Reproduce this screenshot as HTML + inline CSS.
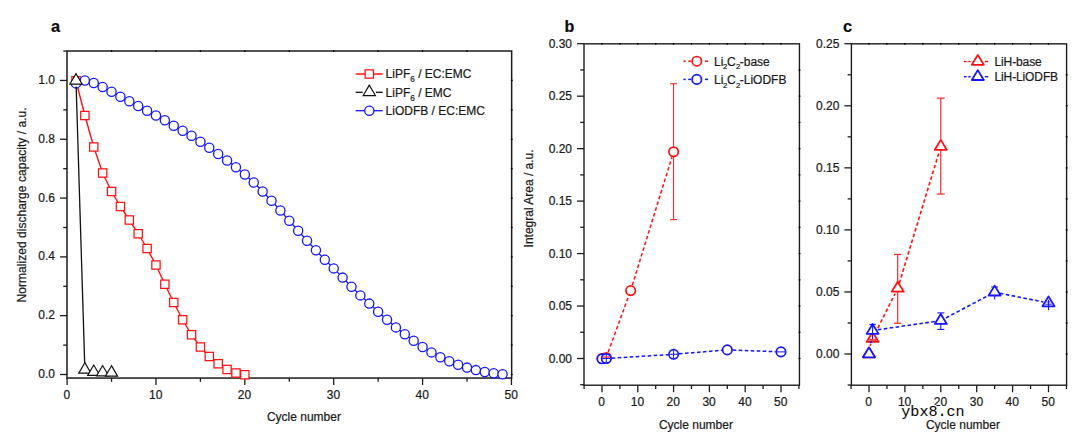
<!DOCTYPE html>
<html><head><meta charset="utf-8"><title>chart</title>
<style>
html,body{margin:0;padding:0;background:#fff;}
body{width:1080px;height:442px;overflow:hidden;font-family:"Liberation Sans", sans-serif;}
svg{display:block;font-family:"Liberation Sans", sans-serif;}
svg text{stroke:#1a1a1a;stroke-width:0.22px;}
</style></head>
<body>
<svg width="1080" height="442" viewBox="0 0 1080 442">
<rect x="0" y="0" width="1080" height="442" fill="#ffffff"/>
<rect x="67.0" y="51.0" width="444.65" height="327.05" fill="none" stroke="#1c1c1c" stroke-width="1.5"/>
<line x1="67.10" y1="378.05" x2="67.10" y2="385.05" stroke="#1c1c1c" stroke-width="1.3" />
<line x1="155.97" y1="378.05" x2="155.97" y2="385.05" stroke="#1c1c1c" stroke-width="1.3" />
<line x1="244.84" y1="378.05" x2="244.84" y2="385.05" stroke="#1c1c1c" stroke-width="1.3" />
<line x1="333.71" y1="378.05" x2="333.71" y2="385.05" stroke="#1c1c1c" stroke-width="1.3" />
<line x1="422.58" y1="378.05" x2="422.58" y2="385.05" stroke="#1c1c1c" stroke-width="1.3" />
<line x1="511.45" y1="378.05" x2="511.45" y2="385.05" stroke="#1c1c1c" stroke-width="1.3" />
<line x1="111.53" y1="378.05" x2="111.53" y2="381.85" stroke="#1c1c1c" stroke-width="1.3" />
<line x1="200.41" y1="378.05" x2="200.41" y2="381.85" stroke="#1c1c1c" stroke-width="1.3" />
<line x1="289.27" y1="378.05" x2="289.27" y2="381.85" stroke="#1c1c1c" stroke-width="1.3" />
<line x1="378.14" y1="378.05" x2="378.14" y2="381.85" stroke="#1c1c1c" stroke-width="1.3" />
<line x1="467.01" y1="378.05" x2="467.01" y2="381.85" stroke="#1c1c1c" stroke-width="1.3" />
<line x1="60.00" y1="374.50" x2="67.00" y2="374.50" stroke="#1c1c1c" stroke-width="1.3" />
<line x1="60.00" y1="315.69" x2="67.00" y2="315.69" stroke="#1c1c1c" stroke-width="1.3" />
<line x1="60.00" y1="256.88" x2="67.00" y2="256.88" stroke="#1c1c1c" stroke-width="1.3" />
<line x1="60.00" y1="198.07" x2="67.00" y2="198.07" stroke="#1c1c1c" stroke-width="1.3" />
<line x1="60.00" y1="139.26" x2="67.00" y2="139.26" stroke="#1c1c1c" stroke-width="1.3" />
<line x1="60.00" y1="80.45" x2="67.00" y2="80.45" stroke="#1c1c1c" stroke-width="1.3" />
<line x1="63.20" y1="345.10" x2="67.00" y2="345.10" stroke="#1c1c1c" stroke-width="1.3" />
<line x1="63.20" y1="286.28" x2="67.00" y2="286.28" stroke="#1c1c1c" stroke-width="1.3" />
<line x1="63.20" y1="227.47" x2="67.00" y2="227.47" stroke="#1c1c1c" stroke-width="1.3" />
<line x1="63.20" y1="168.66" x2="67.00" y2="168.66" stroke="#1c1c1c" stroke-width="1.3" />
<line x1="63.20" y1="109.85" x2="67.00" y2="109.85" stroke="#1c1c1c" stroke-width="1.3" />
<line x1="63.20" y1="51.04" x2="67.00" y2="51.04" stroke="#1c1c1c" stroke-width="1.3" />
<line x1="111.53" y1="50.20" x2="111.53" y2="51.90" stroke="#000" stroke-width="1.3" />
<line x1="155.97" y1="50.20" x2="155.97" y2="51.90" stroke="#000" stroke-width="1.3" />
<line x1="200.41" y1="50.20" x2="200.41" y2="51.90" stroke="#000" stroke-width="1.3" />
<line x1="244.84" y1="50.20" x2="244.84" y2="51.90" stroke="#000" stroke-width="1.3" />
<line x1="289.27" y1="50.20" x2="289.27" y2="51.90" stroke="#000" stroke-width="1.3" />
<line x1="333.71" y1="50.20" x2="333.71" y2="51.90" stroke="#000" stroke-width="1.3" />
<line x1="378.14" y1="50.20" x2="378.14" y2="51.90" stroke="#000" stroke-width="1.3" />
<line x1="422.58" y1="50.20" x2="422.58" y2="51.90" stroke="#000" stroke-width="1.3" />
<line x1="467.01" y1="50.20" x2="467.01" y2="51.90" stroke="#000" stroke-width="1.3" />
<line x1="510.85" y1="374.50" x2="512.65" y2="374.50" stroke="#000" stroke-width="1.3" />
<line x1="510.85" y1="345.10" x2="512.65" y2="345.10" stroke="#000" stroke-width="1.3" />
<line x1="510.85" y1="315.69" x2="512.65" y2="315.69" stroke="#000" stroke-width="1.3" />
<line x1="510.85" y1="286.28" x2="512.65" y2="286.28" stroke="#000" stroke-width="1.3" />
<line x1="510.85" y1="256.88" x2="512.65" y2="256.88" stroke="#000" stroke-width="1.3" />
<line x1="510.85" y1="227.47" x2="512.65" y2="227.47" stroke="#000" stroke-width="1.3" />
<line x1="510.85" y1="198.07" x2="512.65" y2="198.07" stroke="#000" stroke-width="1.3" />
<line x1="510.85" y1="168.66" x2="512.65" y2="168.66" stroke="#000" stroke-width="1.3" />
<line x1="510.85" y1="139.26" x2="512.65" y2="139.26" stroke="#000" stroke-width="1.3" />
<line x1="510.85" y1="109.85" x2="512.65" y2="109.85" stroke="#000" stroke-width="1.3" />
<line x1="510.85" y1="80.45" x2="512.65" y2="80.45" stroke="#000" stroke-width="1.3" />
<text x="66.80" y="398.75" font-size="12" text-anchor="middle" font-weight="normal" fill="#1a1a1a" >0</text>
<text x="155.67" y="398.75" font-size="12" text-anchor="middle" font-weight="normal" fill="#1a1a1a" >10</text>
<text x="244.54" y="398.75" font-size="12" text-anchor="middle" font-weight="normal" fill="#1a1a1a" >20</text>
<text x="333.41" y="398.75" font-size="12" text-anchor="middle" font-weight="normal" fill="#1a1a1a" >30</text>
<text x="422.28" y="398.75" font-size="12" text-anchor="middle" font-weight="normal" fill="#1a1a1a" >40</text>
<text x="511.15" y="398.75" font-size="12" text-anchor="middle" font-weight="normal" fill="#1a1a1a" >50</text>
<text x="55.00" y="378.10" font-size="12" text-anchor="end" font-weight="normal" fill="#1a1a1a" >0.0</text>
<text x="55.00" y="319.29" font-size="12" text-anchor="end" font-weight="normal" fill="#1a1a1a" >0.2</text>
<text x="55.00" y="260.48" font-size="12" text-anchor="end" font-weight="normal" fill="#1a1a1a" >0.4</text>
<text x="55.00" y="201.67" font-size="12" text-anchor="end" font-weight="normal" fill="#1a1a1a" >0.6</text>
<text x="55.00" y="142.86" font-size="12" text-anchor="end" font-weight="normal" fill="#1a1a1a" >0.8</text>
<text x="55.00" y="84.05" font-size="12" text-anchor="end" font-weight="normal" fill="#1a1a1a" >1.0</text>
<polyline points="75.99,80.80 84.87,115.50 93.76,147.00 102.65,173.00 111.53,191.50 120.42,206.50 129.31,220.00 138.20,233.75 147.08,248.50 155.97,265.00 164.86,284.25 173.74,302.50 182.63,319.75 191.52,334.75 200.41,347.00 209.29,356.50 218.18,363.75 227.07,369.50 235.95,373.00 244.84,374.75" fill="none" stroke="#ff1010" stroke-width="1.4" />
<rect x="71.84" y="76.65" width="8.3" height="8.3" fill="#fff" stroke="#ff1010" stroke-width="1.25"/>
<rect x="80.72" y="111.35" width="8.3" height="8.3" fill="#fff" stroke="#ff1010" stroke-width="1.25"/>
<rect x="89.61" y="142.85" width="8.3" height="8.3" fill="#fff" stroke="#ff1010" stroke-width="1.25"/>
<rect x="98.50" y="168.85" width="8.3" height="8.3" fill="#fff" stroke="#ff1010" stroke-width="1.25"/>
<rect x="107.38" y="187.35" width="8.3" height="8.3" fill="#fff" stroke="#ff1010" stroke-width="1.25"/>
<rect x="116.27" y="202.35" width="8.3" height="8.3" fill="#fff" stroke="#ff1010" stroke-width="1.25"/>
<rect x="125.16" y="215.85" width="8.3" height="8.3" fill="#fff" stroke="#ff1010" stroke-width="1.25"/>
<rect x="134.05" y="229.60" width="8.3" height="8.3" fill="#fff" stroke="#ff1010" stroke-width="1.25"/>
<rect x="142.93" y="244.35" width="8.3" height="8.3" fill="#fff" stroke="#ff1010" stroke-width="1.25"/>
<rect x="151.82" y="260.85" width="8.3" height="8.3" fill="#fff" stroke="#ff1010" stroke-width="1.25"/>
<rect x="160.71" y="280.10" width="8.3" height="8.3" fill="#fff" stroke="#ff1010" stroke-width="1.25"/>
<rect x="169.59" y="298.35" width="8.3" height="8.3" fill="#fff" stroke="#ff1010" stroke-width="1.25"/>
<rect x="178.48" y="315.60" width="8.3" height="8.3" fill="#fff" stroke="#ff1010" stroke-width="1.25"/>
<rect x="187.37" y="330.60" width="8.3" height="8.3" fill="#fff" stroke="#ff1010" stroke-width="1.25"/>
<rect x="196.25" y="342.85" width="8.3" height="8.3" fill="#fff" stroke="#ff1010" stroke-width="1.25"/>
<rect x="205.14" y="352.35" width="8.3" height="8.3" fill="#fff" stroke="#ff1010" stroke-width="1.25"/>
<rect x="214.03" y="359.60" width="8.3" height="8.3" fill="#fff" stroke="#ff1010" stroke-width="1.25"/>
<rect x="222.92" y="365.35" width="8.3" height="8.3" fill="#fff" stroke="#ff1010" stroke-width="1.25"/>
<rect x="231.80" y="368.85" width="8.3" height="8.3" fill="#fff" stroke="#ff1010" stroke-width="1.25"/>
<rect x="240.69" y="370.60" width="8.3" height="8.3" fill="#fff" stroke="#ff1010" stroke-width="1.25"/>
<polyline points="75.99,83.40 84.87,80.50 93.76,83.00 102.65,87.00 111.53,91.75 120.42,96.75 129.31,101.25 138.20,106.00 147.08,110.75 155.97,115.50 164.86,120.25 173.74,125.75 182.63,130.75 191.52,135.75 200.41,141.75 209.29,147.75 218.18,154.00 227.07,160.50 235.95,167.20 244.84,174.50 253.73,182.50 262.61,191.50 271.50,200.75 280.39,210.50 289.27,220.75 298.16,230.75 307.05,240.75 315.94,250.30 324.82,259.80 333.71,268.40 342.60,277.60 351.48,286.80 360.37,295.40 369.26,303.60 378.14,311.80 387.03,319.80 395.92,327.40 404.81,334.30 413.69,340.70 422.58,347.00 431.47,352.40 440.35,357.20 449.24,361.30 458.13,364.80 467.01,367.60 475.90,370.10 484.79,372.00 493.68,373.30 502.56,374.30" fill="none" stroke="#1414ff" stroke-width="1.3" />
<circle cx="75.99" cy="83.40" r="4.6" fill="#fff" stroke="#1414ff" stroke-width="1.3"/>
<circle cx="84.87" cy="80.50" r="4.6" fill="#fff" stroke="#1414ff" stroke-width="1.3"/>
<circle cx="93.76" cy="83.00" r="4.6" fill="#fff" stroke="#1414ff" stroke-width="1.3"/>
<circle cx="102.65" cy="87.00" r="4.6" fill="#fff" stroke="#1414ff" stroke-width="1.3"/>
<circle cx="111.53" cy="91.75" r="4.6" fill="#fff" stroke="#1414ff" stroke-width="1.3"/>
<circle cx="120.42" cy="96.75" r="4.6" fill="#fff" stroke="#1414ff" stroke-width="1.3"/>
<circle cx="129.31" cy="101.25" r="4.6" fill="#fff" stroke="#1414ff" stroke-width="1.3"/>
<circle cx="138.20" cy="106.00" r="4.6" fill="#fff" stroke="#1414ff" stroke-width="1.3"/>
<circle cx="147.08" cy="110.75" r="4.6" fill="#fff" stroke="#1414ff" stroke-width="1.3"/>
<circle cx="155.97" cy="115.50" r="4.6" fill="#fff" stroke="#1414ff" stroke-width="1.3"/>
<circle cx="164.86" cy="120.25" r="4.6" fill="#fff" stroke="#1414ff" stroke-width="1.3"/>
<circle cx="173.74" cy="125.75" r="4.6" fill="#fff" stroke="#1414ff" stroke-width="1.3"/>
<circle cx="182.63" cy="130.75" r="4.6" fill="#fff" stroke="#1414ff" stroke-width="1.3"/>
<circle cx="191.52" cy="135.75" r="4.6" fill="#fff" stroke="#1414ff" stroke-width="1.3"/>
<circle cx="200.41" cy="141.75" r="4.6" fill="#fff" stroke="#1414ff" stroke-width="1.3"/>
<circle cx="209.29" cy="147.75" r="4.6" fill="#fff" stroke="#1414ff" stroke-width="1.3"/>
<circle cx="218.18" cy="154.00" r="4.6" fill="#fff" stroke="#1414ff" stroke-width="1.3"/>
<circle cx="227.07" cy="160.50" r="4.6" fill="#fff" stroke="#1414ff" stroke-width="1.3"/>
<circle cx="235.95" cy="167.20" r="4.6" fill="#fff" stroke="#1414ff" stroke-width="1.3"/>
<circle cx="244.84" cy="174.50" r="4.6" fill="#fff" stroke="#1414ff" stroke-width="1.3"/>
<circle cx="253.73" cy="182.50" r="4.6" fill="#fff" stroke="#1414ff" stroke-width="1.3"/>
<circle cx="262.61" cy="191.50" r="4.6" fill="#fff" stroke="#1414ff" stroke-width="1.3"/>
<circle cx="271.50" cy="200.75" r="4.6" fill="#fff" stroke="#1414ff" stroke-width="1.3"/>
<circle cx="280.39" cy="210.50" r="4.6" fill="#fff" stroke="#1414ff" stroke-width="1.3"/>
<circle cx="289.27" cy="220.75" r="4.6" fill="#fff" stroke="#1414ff" stroke-width="1.3"/>
<circle cx="298.16" cy="230.75" r="4.6" fill="#fff" stroke="#1414ff" stroke-width="1.3"/>
<circle cx="307.05" cy="240.75" r="4.6" fill="#fff" stroke="#1414ff" stroke-width="1.3"/>
<circle cx="315.94" cy="250.30" r="4.6" fill="#fff" stroke="#1414ff" stroke-width="1.3"/>
<circle cx="324.82" cy="259.80" r="4.6" fill="#fff" stroke="#1414ff" stroke-width="1.3"/>
<circle cx="333.71" cy="268.40" r="4.6" fill="#fff" stroke="#1414ff" stroke-width="1.3"/>
<circle cx="342.60" cy="277.60" r="4.6" fill="#fff" stroke="#1414ff" stroke-width="1.3"/>
<circle cx="351.48" cy="286.80" r="4.6" fill="#fff" stroke="#1414ff" stroke-width="1.3"/>
<circle cx="360.37" cy="295.40" r="4.6" fill="#fff" stroke="#1414ff" stroke-width="1.3"/>
<circle cx="369.26" cy="303.60" r="4.6" fill="#fff" stroke="#1414ff" stroke-width="1.3"/>
<circle cx="378.14" cy="311.80" r="4.6" fill="#fff" stroke="#1414ff" stroke-width="1.3"/>
<circle cx="387.03" cy="319.80" r="4.6" fill="#fff" stroke="#1414ff" stroke-width="1.3"/>
<circle cx="395.92" cy="327.40" r="4.6" fill="#fff" stroke="#1414ff" stroke-width="1.3"/>
<circle cx="404.81" cy="334.30" r="4.6" fill="#fff" stroke="#1414ff" stroke-width="1.3"/>
<circle cx="413.69" cy="340.70" r="4.6" fill="#fff" stroke="#1414ff" stroke-width="1.3"/>
<circle cx="422.58" cy="347.00" r="4.6" fill="#fff" stroke="#1414ff" stroke-width="1.3"/>
<circle cx="431.47" cy="352.40" r="4.6" fill="#fff" stroke="#1414ff" stroke-width="1.3"/>
<circle cx="440.35" cy="357.20" r="4.6" fill="#fff" stroke="#1414ff" stroke-width="1.3"/>
<circle cx="449.24" cy="361.30" r="4.6" fill="#fff" stroke="#1414ff" stroke-width="1.3"/>
<circle cx="458.13" cy="364.80" r="4.6" fill="#fff" stroke="#1414ff" stroke-width="1.3"/>
<circle cx="467.01" cy="367.60" r="4.6" fill="#fff" stroke="#1414ff" stroke-width="1.3"/>
<circle cx="475.90" cy="370.10" r="4.6" fill="#fff" stroke="#1414ff" stroke-width="1.3"/>
<circle cx="484.79" cy="372.00" r="4.6" fill="#fff" stroke="#1414ff" stroke-width="1.3"/>
<circle cx="493.68" cy="373.30" r="4.6" fill="#fff" stroke="#1414ff" stroke-width="1.3"/>
<circle cx="502.56" cy="374.30" r="4.6" fill="#fff" stroke="#1414ff" stroke-width="1.3"/>
<line x1="76.17" y1="86.40" x2="84.70" y2="363.90" stroke="#111111" stroke-width="1.3" />
<polygon points="75.99,73.67 69.89,84.07 82.09,84.07" fill="#fff" stroke="#111111" stroke-width="1.2" stroke-linejoin="miter"/>
<polygon points="84.87,362.77 78.77,373.17 90.97,373.17" fill="#fff" stroke="#111111" stroke-width="1.2" stroke-linejoin="miter"/>
<polygon points="93.76,365.07 87.66,375.47 99.86,375.47" fill="#fff" stroke="#111111" stroke-width="1.2" stroke-linejoin="miter"/>
<polygon points="102.65,365.57 96.55,375.97 108.75,375.97" fill="#fff" stroke="#111111" stroke-width="1.2" stroke-linejoin="miter"/>
<polygon points="111.53,365.77 105.44,376.17 117.63,376.17" fill="#fff" stroke="#111111" stroke-width="1.2" stroke-linejoin="miter"/>
<line x1="355.60" y1="74.00" x2="382.70" y2="74.00" stroke="#ff1010" stroke-width="1.5" />
<rect x="365.15" y="69.85" width="8.3" height="8.3" fill="#fff" stroke="#ff1010" stroke-width="1.25"/>
<line x1="355.60" y1="92.30" x2="362.70" y2="92.30" stroke="#111111" stroke-width="1.3" />
<line x1="375.90" y1="92.30" x2="382.70" y2="92.30" stroke="#111111" stroke-width="1.3" />
<polygon points="369.30,85.17 363.20,95.57 375.40,95.57" fill="#fff" stroke="#111111" stroke-width="1.2" stroke-linejoin="miter"/>
<line x1="355.60" y1="110.70" x2="382.70" y2="110.70" stroke="#1414ff" stroke-width="1.3" />
<circle cx="369.30" cy="110.70" r="4.6" fill="#fff" stroke="#1414ff" stroke-width="1.3"/>
<text x="385.60" y="78.30" font-size="12" text-anchor="start" font-weight="normal" fill="#1a1a1a" >LiPF<tspan font-size="8.2" dy="4.0">6</tspan><tspan dy="-4.0"> </tspan>/ EC:EMC</text>
<text x="385.60" y="96.60" font-size="12" text-anchor="start" font-weight="normal" fill="#1a1a1a" >LiPF<tspan font-size="8.2" dy="4.0">6</tspan><tspan dy="-4.0"> </tspan>/ EMC</text>
<text x="385.60" y="115.00" font-size="12" text-anchor="start" font-weight="normal" fill="#1a1a1a" >LiODFB / EC:EMC</text>
<text x="303.90" y="420.50" font-size="12" text-anchor="middle" font-weight="normal" fill="#1a1a1a" >Cycle number</text>
<text transform="translate(25.6,204.9) rotate(-90)" font-size="12" letter-spacing="0.05" text-anchor="middle" fill="#1a1a1a">Normalized discharge capacity / a.u.</text>
<text x="50.90" y="31.80" font-size="16.4" text-anchor="start" font-weight="bold" fill="#0a0a0a" >a</text>
<rect x="584.0" y="43.85" width="215.45000000000005" height="341.34999999999997" fill="none" stroke="#1c1c1c" stroke-width="1.4"/>
<line x1="602.00" y1="385.20" x2="602.00" y2="392.20" stroke="#1c1c1c" stroke-width="1.3" />
<line x1="637.80" y1="385.20" x2="637.80" y2="392.20" stroke="#1c1c1c" stroke-width="1.3" />
<line x1="673.60" y1="385.20" x2="673.60" y2="392.20" stroke="#1c1c1c" stroke-width="1.3" />
<line x1="709.40" y1="385.20" x2="709.40" y2="392.20" stroke="#1c1c1c" stroke-width="1.3" />
<line x1="745.20" y1="385.20" x2="745.20" y2="392.20" stroke="#1c1c1c" stroke-width="1.3" />
<line x1="781.00" y1="385.20" x2="781.00" y2="392.20" stroke="#1c1c1c" stroke-width="1.3" />
<line x1="584.10" y1="385.20" x2="584.10" y2="389.00" stroke="#1c1c1c" stroke-width="1.3" />
<line x1="619.90" y1="385.20" x2="619.90" y2="389.00" stroke="#1c1c1c" stroke-width="1.3" />
<line x1="655.70" y1="385.20" x2="655.70" y2="389.00" stroke="#1c1c1c" stroke-width="1.3" />
<line x1="691.50" y1="385.20" x2="691.50" y2="389.00" stroke="#1c1c1c" stroke-width="1.3" />
<line x1="727.30" y1="385.20" x2="727.30" y2="389.00" stroke="#1c1c1c" stroke-width="1.3" />
<line x1="763.10" y1="385.20" x2="763.10" y2="389.00" stroke="#1c1c1c" stroke-width="1.3" />
<line x1="798.90" y1="385.20" x2="798.90" y2="389.00" stroke="#1c1c1c" stroke-width="1.3" />
<line x1="577.00" y1="358.50" x2="584.00" y2="358.50" stroke="#1c1c1c" stroke-width="1.3" />
<line x1="577.00" y1="306.03" x2="584.00" y2="306.03" stroke="#1c1c1c" stroke-width="1.3" />
<line x1="577.00" y1="253.57" x2="584.00" y2="253.57" stroke="#1c1c1c" stroke-width="1.3" />
<line x1="577.00" y1="201.10" x2="584.00" y2="201.10" stroke="#1c1c1c" stroke-width="1.3" />
<line x1="577.00" y1="148.64" x2="584.00" y2="148.64" stroke="#1c1c1c" stroke-width="1.3" />
<line x1="577.00" y1="96.18" x2="584.00" y2="96.18" stroke="#1c1c1c" stroke-width="1.3" />
<line x1="577.00" y1="43.71" x2="584.00" y2="43.71" stroke="#1c1c1c" stroke-width="1.3" />
<line x1="580.20" y1="384.73" x2="584.00" y2="384.73" stroke="#1c1c1c" stroke-width="1.3" />
<line x1="580.20" y1="332.27" x2="584.00" y2="332.27" stroke="#1c1c1c" stroke-width="1.3" />
<line x1="580.20" y1="279.80" x2="584.00" y2="279.80" stroke="#1c1c1c" stroke-width="1.3" />
<line x1="580.20" y1="227.34" x2="584.00" y2="227.34" stroke="#1c1c1c" stroke-width="1.3" />
<line x1="580.20" y1="174.87" x2="584.00" y2="174.87" stroke="#1c1c1c" stroke-width="1.3" />
<line x1="580.20" y1="122.41" x2="584.00" y2="122.41" stroke="#1c1c1c" stroke-width="1.3" />
<line x1="580.20" y1="69.94" x2="584.00" y2="69.94" stroke="#1c1c1c" stroke-width="1.3" />
<line x1="602.00" y1="43.05" x2="602.00" y2="44.75" stroke="#000" stroke-width="1.3" />
<line x1="619.90" y1="43.05" x2="619.90" y2="44.75" stroke="#000" stroke-width="1.3" />
<line x1="637.80" y1="43.05" x2="637.80" y2="44.75" stroke="#000" stroke-width="1.3" />
<line x1="655.70" y1="43.05" x2="655.70" y2="44.75" stroke="#000" stroke-width="1.3" />
<line x1="673.60" y1="43.05" x2="673.60" y2="44.75" stroke="#000" stroke-width="1.3" />
<line x1="691.50" y1="43.05" x2="691.50" y2="44.75" stroke="#000" stroke-width="1.3" />
<line x1="709.40" y1="43.05" x2="709.40" y2="44.75" stroke="#000" stroke-width="1.3" />
<line x1="727.30" y1="43.05" x2="727.30" y2="44.75" stroke="#000" stroke-width="1.3" />
<line x1="745.20" y1="43.05" x2="745.20" y2="44.75" stroke="#000" stroke-width="1.3" />
<line x1="763.10" y1="43.05" x2="763.10" y2="44.75" stroke="#000" stroke-width="1.3" />
<line x1="781.00" y1="43.05" x2="781.00" y2="44.75" stroke="#000" stroke-width="1.3" />
<line x1="798.65" y1="358.50" x2="800.45" y2="358.50" stroke="#000" stroke-width="1.3" />
<line x1="798.65" y1="332.27" x2="800.45" y2="332.27" stroke="#000" stroke-width="1.3" />
<line x1="798.65" y1="306.03" x2="800.45" y2="306.03" stroke="#000" stroke-width="1.3" />
<line x1="798.65" y1="279.80" x2="800.45" y2="279.80" stroke="#000" stroke-width="1.3" />
<line x1="798.65" y1="253.57" x2="800.45" y2="253.57" stroke="#000" stroke-width="1.3" />
<line x1="798.65" y1="227.34" x2="800.45" y2="227.34" stroke="#000" stroke-width="1.3" />
<line x1="798.65" y1="201.10" x2="800.45" y2="201.10" stroke="#000" stroke-width="1.3" />
<line x1="798.65" y1="174.87" x2="800.45" y2="174.87" stroke="#000" stroke-width="1.3" />
<line x1="798.65" y1="148.64" x2="800.45" y2="148.64" stroke="#000" stroke-width="1.3" />
<line x1="798.65" y1="122.41" x2="800.45" y2="122.41" stroke="#000" stroke-width="1.3" />
<line x1="798.65" y1="96.18" x2="800.45" y2="96.18" stroke="#000" stroke-width="1.3" />
<line x1="798.65" y1="69.94" x2="800.45" y2="69.94" stroke="#000" stroke-width="1.3" />
<text x="601.70" y="405.90" font-size="12" text-anchor="middle" font-weight="normal" fill="#1a1a1a" >0</text>
<text x="637.50" y="405.90" font-size="12" text-anchor="middle" font-weight="normal" fill="#1a1a1a" >10</text>
<text x="673.30" y="405.90" font-size="12" text-anchor="middle" font-weight="normal" fill="#1a1a1a" >20</text>
<text x="709.10" y="405.90" font-size="12" text-anchor="middle" font-weight="normal" fill="#1a1a1a" >30</text>
<text x="744.90" y="405.90" font-size="12" text-anchor="middle" font-weight="normal" fill="#1a1a1a" >40</text>
<text x="780.70" y="405.90" font-size="12" text-anchor="middle" font-weight="normal" fill="#1a1a1a" >50</text>
<text x="572.00" y="362.65" font-size="12" text-anchor="end" font-weight="normal" fill="#1a1a1a" >0.00</text>
<text x="572.00" y="310.18" font-size="12" text-anchor="end" font-weight="normal" fill="#1a1a1a" >0.05</text>
<text x="572.00" y="257.72" font-size="12" text-anchor="end" font-weight="normal" fill="#1a1a1a" >0.10</text>
<text x="572.00" y="205.25" font-size="12" text-anchor="end" font-weight="normal" fill="#1a1a1a" >0.15</text>
<text x="572.00" y="152.79" font-size="12" text-anchor="end" font-weight="normal" fill="#1a1a1a" >0.20</text>
<text x="572.00" y="100.33" font-size="12" text-anchor="end" font-weight="normal" fill="#1a1a1a" >0.25</text>
<text x="572.00" y="47.86" font-size="12" text-anchor="end" font-weight="normal" fill="#1a1a1a" >0.30</text>
<line x1="608.26" y1="352.05" x2="628.67" y2="296.01" stroke="#ff1010" stroke-width="1.5" stroke-dasharray="3.6 2.4"/>
<line x1="632.31" y1="285.21" x2="671.93" y2="157.19" stroke="#ff1010" stroke-width="1.5" stroke-dasharray="3.6 2.4"/>
<line x1="673.60" y1="83.79" x2="673.60" y2="219.68" stroke="#ff1010" stroke-width="1.0" />
<line x1="670.10" y1="83.79" x2="677.10" y2="83.79" stroke="#ff1010" stroke-width="1.0" />
<line x1="670.10" y1="219.68" x2="677.10" y2="219.68" stroke="#ff1010" stroke-width="1.0" />
<line x1="606.30" y1="356.40" x2="606.30" y2="358.50" stroke="#ff1010" stroke-width="1.0" />
<line x1="602.80" y1="356.40" x2="609.80" y2="356.40" stroke="#ff1010" stroke-width="1.0" />
<line x1="602.80" y1="358.50" x2="609.80" y2="358.50" stroke="#ff1010" stroke-width="1.0" />
<circle cx="602.00" cy="358.50" r="4.7" fill="#fff" stroke="#ff1010" stroke-width="1.7"/>
<circle cx="606.30" cy="357.45" r="4.7" fill="#fff" stroke="#ff1010" stroke-width="1.7"/>
<circle cx="630.64" cy="290.61" r="4.7" fill="#fff" stroke="#ff1010" stroke-width="1.7"/>
<circle cx="673.60" cy="151.79" r="4.7" fill="#fff" stroke="#ff1010" stroke-width="1.7"/>
<line x1="611.70" y1="358.16" x2="668.20" y2="354.64" stroke="#1414ff" stroke-width="1.5" stroke-dasharray="3.6 2.4"/>
<line x1="679.00" y1="353.86" x2="721.90" y2="350.34" stroke="#1414ff" stroke-width="1.5" stroke-dasharray="3.6 2.4"/>
<line x1="732.70" y1="350.10" x2="775.60" y2="351.69" stroke="#1414ff" stroke-width="1.5" stroke-dasharray="3.6 2.4"/>
<circle cx="602.00" cy="358.81" r="4.7" fill="#fff" stroke="#1414ff" stroke-width="1.7"/>
<circle cx="606.30" cy="358.50" r="4.7" fill="#fff" stroke="#1414ff" stroke-width="1.7"/>
<circle cx="673.60" cy="354.30" r="4.7" fill="#fff" stroke="#1414ff" stroke-width="1.7"/>
<circle cx="727.30" cy="349.90" r="4.7" fill="#fff" stroke="#1414ff" stroke-width="1.7"/>
<circle cx="781.00" cy="351.89" r="4.7" fill="#fff" stroke="#1414ff" stroke-width="1.7"/>
<line x1="602.30" y1="358.50" x2="610.30" y2="358.50" stroke="#1414ff" stroke-width="1.0" />
<line x1="606.30" y1="354.50" x2="606.30" y2="362.50" stroke="#1414ff" stroke-width="1.0" />
<line x1="669.60" y1="354.30" x2="677.60" y2="354.30" stroke="#1414ff" stroke-width="1.0" />
<line x1="673.60" y1="350.30" x2="673.60" y2="358.30" stroke="#1414ff" stroke-width="1.0" />
<line x1="777.00" y1="351.89" x2="785.00" y2="351.89" stroke="#1414ff" stroke-width="1.0" />
<line x1="602.50" y1="357.05" x2="610.10" y2="357.05" stroke="#ff1010" stroke-width="1.1" />
<line x1="683.40" y1="61.20" x2="685.70" y2="61.20" stroke="#ff1010" stroke-width="1.5" />
<line x1="688.20" y1="61.20" x2="691.00" y2="61.20" stroke="#ff1010" stroke-width="1.5" />
<line x1="705.00" y1="61.20" x2="708.10" y2="61.20" stroke="#ff1010" stroke-width="1.5" />
<circle cx="696.80" cy="61.20" r="4.7" fill="#fff" stroke="#ff1010" stroke-width="1.7"/>
<text x="714.00" y="65.60" font-size="12" text-anchor="start" font-weight="normal" fill="#1a1a1a" >Li<tspan font-size="7.7" dy="3.8" dx="-0.3">2</tspan><tspan dy="-3.8" dx="-0.3">C</tspan><tspan font-size="7.7" dy="3.8" dx="0.3">2</tspan><tspan dy="-3.8" dx="-0.5">-base</tspan></text>
<line x1="683.40" y1="79.40" x2="685.70" y2="79.40" stroke="#1414ff" stroke-width="1.5" />
<line x1="688.20" y1="79.40" x2="691.00" y2="79.40" stroke="#1414ff" stroke-width="1.5" />
<line x1="705.00" y1="79.40" x2="708.10" y2="79.40" stroke="#1414ff" stroke-width="1.5" />
<circle cx="696.80" cy="79.40" r="4.7" fill="#fff" stroke="#1414ff" stroke-width="1.7"/>
<text x="714.00" y="83.80" font-size="12" text-anchor="start" font-weight="normal" fill="#1a1a1a" >Li<tspan font-size="7.7" dy="3.8" dx="-0.3">2</tspan><tspan dy="-3.8" dx="-0.3">C</tspan><tspan font-size="7.7" dy="3.8" dx="0.3">2</tspan><tspan dy="-3.8" dx="-0.5">-LiODFB</tspan></text>
<text x="695.90" y="428.80" font-size="12" text-anchor="middle" font-weight="normal" fill="#1a1a1a" >Cycle number</text>
<text transform="translate(532.7,198.4) rotate(-90)" font-size="12" text-anchor="middle" fill="#1a1a1a">Integral Area / a.u.</text>
<text x="564.40" y="31.70" font-size="16.0" text-anchor="start" font-weight="bold" fill="#0a0a0a" >b</text>
<rect x="851.4" y="43.85" width="215.19999999999993" height="341.34999999999997" fill="none" stroke="#1c1c1c" stroke-width="1.4"/>
<line x1="869.00" y1="385.20" x2="869.00" y2="392.20" stroke="#1c1c1c" stroke-width="1.3" />
<line x1="904.90" y1="385.20" x2="904.90" y2="392.20" stroke="#1c1c1c" stroke-width="1.3" />
<line x1="940.80" y1="385.20" x2="940.80" y2="392.20" stroke="#1c1c1c" stroke-width="1.3" />
<line x1="976.70" y1="385.20" x2="976.70" y2="392.20" stroke="#1c1c1c" stroke-width="1.3" />
<line x1="1012.60" y1="385.20" x2="1012.60" y2="392.20" stroke="#1c1c1c" stroke-width="1.3" />
<line x1="1048.50" y1="385.20" x2="1048.50" y2="392.20" stroke="#1c1c1c" stroke-width="1.3" />
<line x1="851.05" y1="385.20" x2="851.05" y2="389.00" stroke="#1c1c1c" stroke-width="1.3" />
<line x1="886.95" y1="385.20" x2="886.95" y2="389.00" stroke="#1c1c1c" stroke-width="1.3" />
<line x1="922.85" y1="385.20" x2="922.85" y2="389.00" stroke="#1c1c1c" stroke-width="1.3" />
<line x1="958.75" y1="385.20" x2="958.75" y2="389.00" stroke="#1c1c1c" stroke-width="1.3" />
<line x1="994.65" y1="385.20" x2="994.65" y2="389.00" stroke="#1c1c1c" stroke-width="1.3" />
<line x1="1030.55" y1="385.20" x2="1030.55" y2="389.00" stroke="#1c1c1c" stroke-width="1.3" />
<line x1="1066.45" y1="385.20" x2="1066.45" y2="389.00" stroke="#1c1c1c" stroke-width="1.3" />
<line x1="844.40" y1="354.00" x2="851.40" y2="354.00" stroke="#1c1c1c" stroke-width="1.3" />
<line x1="844.40" y1="291.95" x2="851.40" y2="291.95" stroke="#1c1c1c" stroke-width="1.3" />
<line x1="844.40" y1="229.90" x2="851.40" y2="229.90" stroke="#1c1c1c" stroke-width="1.3" />
<line x1="844.40" y1="167.85" x2="851.40" y2="167.85" stroke="#1c1c1c" stroke-width="1.3" />
<line x1="844.40" y1="105.80" x2="851.40" y2="105.80" stroke="#1c1c1c" stroke-width="1.3" />
<line x1="844.40" y1="43.75" x2="851.40" y2="43.75" stroke="#1c1c1c" stroke-width="1.3" />
<line x1="847.60" y1="385.02" x2="851.40" y2="385.02" stroke="#1c1c1c" stroke-width="1.3" />
<line x1="847.60" y1="322.98" x2="851.40" y2="322.98" stroke="#1c1c1c" stroke-width="1.3" />
<line x1="847.60" y1="260.92" x2="851.40" y2="260.92" stroke="#1c1c1c" stroke-width="1.3" />
<line x1="847.60" y1="198.87" x2="851.40" y2="198.87" stroke="#1c1c1c" stroke-width="1.3" />
<line x1="847.60" y1="136.82" x2="851.40" y2="136.82" stroke="#1c1c1c" stroke-width="1.3" />
<line x1="847.60" y1="74.77" x2="851.40" y2="74.77" stroke="#1c1c1c" stroke-width="1.3" />
<line x1="869.00" y1="43.05" x2="869.00" y2="44.75" stroke="#000" stroke-width="1.3" />
<line x1="886.95" y1="43.05" x2="886.95" y2="44.75" stroke="#000" stroke-width="1.3" />
<line x1="904.90" y1="43.05" x2="904.90" y2="44.75" stroke="#000" stroke-width="1.3" />
<line x1="922.85" y1="43.05" x2="922.85" y2="44.75" stroke="#000" stroke-width="1.3" />
<line x1="940.80" y1="43.05" x2="940.80" y2="44.75" stroke="#000" stroke-width="1.3" />
<line x1="958.75" y1="43.05" x2="958.75" y2="44.75" stroke="#000" stroke-width="1.3" />
<line x1="976.70" y1="43.05" x2="976.70" y2="44.75" stroke="#000" stroke-width="1.3" />
<line x1="994.65" y1="43.05" x2="994.65" y2="44.75" stroke="#000" stroke-width="1.3" />
<line x1="1012.60" y1="43.05" x2="1012.60" y2="44.75" stroke="#000" stroke-width="1.3" />
<line x1="1030.55" y1="43.05" x2="1030.55" y2="44.75" stroke="#000" stroke-width="1.3" />
<line x1="1048.50" y1="43.05" x2="1048.50" y2="44.75" stroke="#000" stroke-width="1.3" />
<line x1="1065.80" y1="354.00" x2="1067.60" y2="354.00" stroke="#000" stroke-width="1.3" />
<line x1="1065.80" y1="322.98" x2="1067.60" y2="322.98" stroke="#000" stroke-width="1.3" />
<line x1="1065.80" y1="291.95" x2="1067.60" y2="291.95" stroke="#000" stroke-width="1.3" />
<line x1="1065.80" y1="260.92" x2="1067.60" y2="260.92" stroke="#000" stroke-width="1.3" />
<line x1="1065.80" y1="229.90" x2="1067.60" y2="229.90" stroke="#000" stroke-width="1.3" />
<line x1="1065.80" y1="198.88" x2="1067.60" y2="198.88" stroke="#000" stroke-width="1.3" />
<line x1="1065.80" y1="167.85" x2="1067.60" y2="167.85" stroke="#000" stroke-width="1.3" />
<line x1="1065.80" y1="136.82" x2="1067.60" y2="136.82" stroke="#000" stroke-width="1.3" />
<line x1="1065.80" y1="105.80" x2="1067.60" y2="105.80" stroke="#000" stroke-width="1.3" />
<line x1="1065.80" y1="74.77" x2="1067.60" y2="74.77" stroke="#000" stroke-width="1.3" />
<text x="868.70" y="405.90" font-size="12" text-anchor="middle" font-weight="normal" fill="#1a1a1a" >0</text>
<text x="904.60" y="405.90" font-size="12" text-anchor="middle" font-weight="normal" fill="#1a1a1a" >10</text>
<text x="940.50" y="405.90" font-size="12" text-anchor="middle" font-weight="normal" fill="#1a1a1a" >20</text>
<text x="976.40" y="405.90" font-size="12" text-anchor="middle" font-weight="normal" fill="#1a1a1a" >30</text>
<text x="1012.30" y="405.90" font-size="12" text-anchor="middle" font-weight="normal" fill="#1a1a1a" >40</text>
<text x="1048.20" y="405.90" font-size="12" text-anchor="middle" font-weight="normal" fill="#1a1a1a" >50</text>
<text x="839.40" y="358.15" font-size="12" text-anchor="end" font-weight="normal" fill="#1a1a1a" >0.00</text>
<text x="839.40" y="296.10" font-size="12" text-anchor="end" font-weight="normal" fill="#1a1a1a" >0.05</text>
<text x="839.40" y="234.05" font-size="12" text-anchor="end" font-weight="normal" fill="#1a1a1a" >0.10</text>
<text x="839.40" y="172.00" font-size="12" text-anchor="end" font-weight="normal" fill="#1a1a1a" >0.15</text>
<text x="839.40" y="109.95" font-size="12" text-anchor="end" font-weight="normal" fill="#1a1a1a" >0.20</text>
<text x="839.40" y="47.90" font-size="12" text-anchor="end" font-weight="normal" fill="#1a1a1a" >0.25</text>
<line x1="875.19" y1="333.41" x2="895.12" y2="293.55" stroke="#ff1010" stroke-width="1.6" stroke-dasharray="3.6 2.4"/>
<line x1="899.30" y1="283.15" x2="939.22" y2="151.70" stroke="#ff1010" stroke-width="1.6" stroke-dasharray="3.6 2.4"/>
<line x1="870.30" y1="345.90" x2="870.60" y2="344.00" stroke="#ff1010" stroke-width="1.6" />
<line x1="940.80" y1="98.11" x2="940.80" y2="194.04" stroke="#ff1010" stroke-width="1.1" />
<line x1="936.80" y1="98.11" x2="944.80" y2="98.11" stroke="#ff1010" stroke-width="1.1" />
<line x1="936.80" y1="194.04" x2="944.80" y2="194.04" stroke="#ff1010" stroke-width="1.1" />
<line x1="897.72" y1="254.35" x2="897.72" y2="323.22" stroke="#ff1010" stroke-width="1.1" />
<line x1="893.97" y1="254.35" x2="901.47" y2="254.35" stroke="#ff1010" stroke-width="1.1" />
<line x1="893.97" y1="323.22" x2="901.47" y2="323.22" stroke="#ff1010" stroke-width="1.1" />
<polygon points="869.00,347.40 863.00,357.30 875.00,357.30" fill="#fff" stroke="#ff1010" stroke-width="1.8" stroke-linejoin="round"/>
<polygon points="872.59,332.01 866.59,341.91 878.59,341.91" fill="#fff" stroke="#ff1010" stroke-width="1.8" stroke-linejoin="round"/>
<polygon points="897.72,281.75 891.72,291.65 903.72,291.65" fill="#fff" stroke="#ff1010" stroke-width="1.8" stroke-linejoin="round"/>
<polygon points="940.80,139.90 934.80,149.80 946.80,149.80" fill="#fff" stroke="#ff1010" stroke-width="1.8" stroke-linejoin="round"/>
<line x1="869.39" y1="339.30" x2="875.79" y2="339.30" stroke="#ff1010" stroke-width="1.0" />
<line x1="868.79" y1="340.80" x2="876.39" y2="340.80" stroke="#ff1010" stroke-width="1.0" />
<line x1="877.79" y1="329.79" x2="935.60" y2="321.37" stroke="#1414ff" stroke-width="1.6" stroke-dasharray="3.6 2.4"/>
<line x1="946.00" y1="317.87" x2="989.45" y2="294.94" stroke="#1414ff" stroke-width="1.6" stroke-dasharray="3.6 2.4"/>
<line x1="999.85" y1="293.24" x2="1043.30" y2="301.95" stroke="#1414ff" stroke-width="1.6" stroke-dasharray="3.6 2.4"/>
<line x1="870.60" y1="343.40" x2="871.00" y2="340.90" stroke="#1414ff" stroke-width="1.6" />
<line x1="940.80" y1="312.90" x2="940.80" y2="329.40" stroke="#1414ff" stroke-width="1.1" />
<line x1="937.30" y1="312.90" x2="944.30" y2="312.90" stroke="#1414ff" stroke-width="1.1" />
<line x1="937.30" y1="329.40" x2="944.30" y2="329.40" stroke="#1414ff" stroke-width="1.1" />
<line x1="994.65" y1="286.80" x2="994.65" y2="299.40" stroke="#1414ff" stroke-width="1.1" />
<line x1="991.25" y1="287.00" x2="998.05" y2="287.00" stroke="#1414ff" stroke-width="1.1" />
<polygon points="869.00,347.40 863.00,357.30 875.00,357.30" fill="#fff" stroke="#1414ff" stroke-width="1.8" stroke-linejoin="round"/>
<polygon points="872.59,323.95 866.59,333.85 878.59,333.85" fill="#fff" stroke="#1414ff" stroke-width="1.8" stroke-linejoin="round"/>
<polygon points="940.80,314.02 934.80,323.92 946.80,323.92" fill="#fff" stroke="#1414ff" stroke-width="1.8" stroke-linejoin="round"/>
<polygon points="994.65,285.60 988.65,295.50 1000.65,295.50" fill="#fff" stroke="#1414ff" stroke-width="1.8" stroke-linejoin="round"/>
<polygon points="1048.50,296.39 1042.50,306.29 1054.50,306.29" fill="#fff" stroke="#1414ff" stroke-width="1.8" stroke-linejoin="round"/>
<line x1="872.59" y1="324.30" x2="872.59" y2="339.00" stroke="#1414ff" stroke-width="1.1" />
<line x1="869.39" y1="324.40" x2="875.79" y2="324.40" stroke="#1414ff" stroke-width="1.1" />
<line x1="1048.50" y1="299.70" x2="1048.50" y2="310.30" stroke="#1414ff" stroke-width="1.1" />
<line x1="1046.80" y1="302.00" x2="1050.20" y2="302.00" stroke="#1414ff" stroke-width="1.0" />
<line x1="1045.30" y1="304.20" x2="1051.70" y2="304.20" stroke="#1414ff" stroke-width="1.0" />
<line x1="963.90" y1="61.50" x2="970.50" y2="61.50" stroke="#ff1010" stroke-width="1.4" stroke-dasharray="2.6 1.8"/>
<line x1="984.80" y1="61.50" x2="988.20" y2="61.50" stroke="#ff1010" stroke-width="1.4" />
<polygon points="977.80,54.90 971.80,64.80 983.80,64.80" fill="#fff" stroke="#ff1010" stroke-width="1.8" stroke-linejoin="round"/>
<text x="994.50" y="65.50" font-size="12" text-anchor="start" font-weight="normal" fill="#1a1a1a" letter-spacing="-0.12">LiH-base</text>
<line x1="963.90" y1="76.70" x2="970.50" y2="76.70" stroke="#1414ff" stroke-width="1.4" stroke-dasharray="2.6 1.8"/>
<line x1="984.80" y1="76.70" x2="988.20" y2="76.70" stroke="#1414ff" stroke-width="1.4" />
<polygon points="977.80,70.10 971.80,80.00 983.80,80.00" fill="#fff" stroke="#1414ff" stroke-width="1.8" stroke-linejoin="round"/>
<text x="994.50" y="80.70" font-size="12" text-anchor="start" font-weight="normal" fill="#1a1a1a" letter-spacing="-0.12">LiH-LiODFB</text>
<text x="962.90" y="428.80" font-size="12" text-anchor="middle" font-weight="normal" fill="#1a1a1a" >Cycle number</text>
<text x="842.90" y="31.70" font-size="16.4" text-anchor="start" font-weight="bold" fill="#0a0a0a" >c</text>
<text transform="translate(901.3,415.9) scale(1.04,1)" font-family='"Liberation Mono", monospace' font-size="14.5" style="fill:#fff;stroke:#fff;stroke-width:2.6px;stroke-linejoin:round">ybx8.cn</text>
<text transform="translate(901.3,415.9) scale(1.04,1)" font-family='"Liberation Mono", monospace' font-size="14.5" style="fill:#0c0c0c;stroke:#0c0c0c;stroke-width:0.1px">ybx8.cn</text>
</svg>
</body></html>
